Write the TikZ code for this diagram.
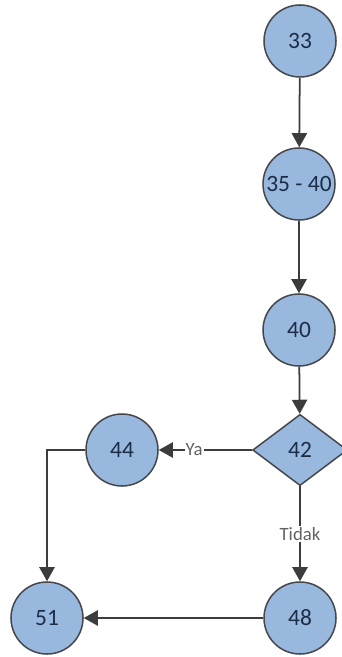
\documentclass[tikz,border=0pt]{standalone}
\usepackage{fontspec}
\setmainfont{Carlito}
\usetikzlibrary{shapes.geometric,arrows.meta}
\definecolor{nodeblue}{RGB}{152,184,222}
\definecolor{nodeline}{RGB}{70,72,78}
\definecolor{nodetext}{RGB}{28,45,72}
\definecolor{edgegray}{RGB}{60,60,60}

\begin{document}
\begin{tikzpicture}[x=0.03cm, y=-0.03cm,
				flownode/.style=	{circle, minimum size=2.16cm, inner sep=0pt, fill=nodeblue, draw=nodeline, line width=1.3pt, text=nodetext, font=\fontsize{20}{22}\selectfont},
				decisionnode/.style=	{diamond, aspect=1.32, minimum width=2.84cm, minimum height=2.14cm, inner sep=0pt, fill=nodeblue, draw=nodeline, line width=1.3pt, text=nodetext, font=\fontsize{20}{22}\selectfont},
				flow/.style=		{arrows={-{Triangle[length=12pt,width=13pt]}}, draw=edgegray, line width=1.5pt},
				flowlabel/.style=	{fill=white, inner sep=1pt, text=edgegray!80, font=\fontsize{16}{18}\selectfont}]
	\useasboundingbox (0,0) rectangle (341,657);

	\node[flownode] (n33) at (300,41) {33};
	\node[flownode] (n3540) at (299,184) {35 - 40};
	\node[flownode] (n40) at (299,330) {40};
	\node[decisionnode] (n42) at (300,450) {42};
	\node[flownode] (n44) at (122,450) {44};
	\node[flownode] (n48) at (300,618) {48};
	\node[flownode] (n51) at (47,618) {51};

	\draw[flow] (n33) -- (n3540);
	\draw[flow] (n3540) -- (n40);
	\draw[flow] (n40) -- (n42);
	\draw[flow] (n42) -- node[flowlabel, pos=0.62] {Ya} (n44);
	\draw[flow] (n42) -- node[flowlabel] {Tidak} (n48);
	\draw[flow] (n44) -| (n51);
	\draw[flow] (n48) -- (n51);
\end{tikzpicture}
\end{document}
